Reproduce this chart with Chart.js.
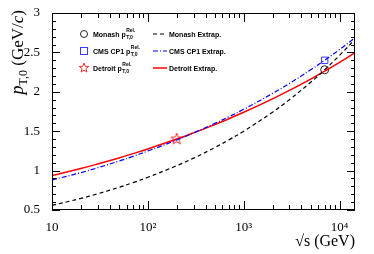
<!DOCTYPE html>
<html>
<head>
<meta charset="utf-8">
<script src="https://cdn.jsdelivr.net/npm/chart.js@4.4.0/dist/chart.umd.min.js"></script>
<style>
  html, body { margin: 0; padding: 0; background: #fff; }
  #wrap { width: 374px; height: 254px; }
</style>
</head>
<body>
<div id="wrap"><canvas id="myChart"></canvas></div>
<script>
// sqrt(s) sample points (GeV)
const sqrtS = [10, 20, 30, 50, 70, 100, 200, 300, 500, 700, 1000, 2000, 3000, 5000, 7000, 10000, 14500];
const monashExtrap  = [0.558, 0.647, 0.706, 0.788, 0.847, 0.915, 1.062, 1.158, 1.293, 1.390, 1.500, 1.741, 1.900, 2.121, 2.280, 2.462, 2.666];
const cp1Extrap     = [0.882, 0.974, 1.036, 1.121, 1.181, 1.248, 1.388, 1.478, 1.599, 1.683, 1.778, 1.979, 2.106, 2.279, 2.400, 2.536, 2.685];
const detroitExtrap = [0.936, 1.026, 1.084, 1.161, 1.215, 1.275, 1.400, 1.479, 1.584, 1.658, 1.740, 1.911, 2.018, 2.162, 2.262, 2.374, 2.496];

// reference points
const monashRef  = [{x: 7000, y: 2.28}];
const cp1Ref     = [{x: 7000, y: 2.40}];
const detroitRef = [{x: 200, y: 1.40}];

const xMajor = [10, 100, 1000, 10000];
const xLabels = {10: '10', 100: '10\u00B2', 1000: '10\u00B3', 10000: '10\u2074'};

function pts(vals) { return sqrtS.map((s, i) => ({x: s, y: vals[i]})); }

// open 5-pointed star marker
function starImg(r, color) {
  const c = document.createElement('canvas');
  c.width = c.height = 2 * r + 4;
  const g = c.getContext('2d');
  g.strokeStyle = color; g.lineWidth = 1;
  g.beginPath();
  for (let i = 0; i < 10; i++) {
    const rr = i % 2 ? r * 0.42 : r;
    const a = -Math.PI / 2 + i * Math.PI / 5;
    const px = r + 2 + rr * Math.cos(a), py = r + 2 + rr * Math.sin(a);
    i ? g.lineTo(px, py) : g.moveTo(px, py);
  }
  g.closePath(); g.stroke();
  return c;
}
const star = starImg(6, '#ff2a2a');
const starSmall = starImg(5, '#ff2a2a');

const rootFrame = {
  id: 'rootFrame',
  afterDraw(chart) {
    const ctx = chart.ctx, a = chart.chartArea;
    const xs = chart.scales.x, ys = chart.scales.y;
    ctx.save();
    ctx.strokeStyle = '#000'; ctx.lineWidth = 1;
    ctx.strokeRect(a.left + 0.5, a.top + 0.5, a.right - a.left - 1, a.bottom - a.top - 1);
    ctx.beginPath();
    // y ticks
    for (let k = 5; k <= 30; k++) {
      const py = Math.round(ys.getPixelForValue(k / 10)) + 0.5;
      const len = k % 5 === 0 ? 8 : 4;
      ctx.moveTo(a.left, py); ctx.lineTo(a.left + len, py);
      ctx.moveTo(a.right, py); ctx.lineTo(a.right - len, py);
    }
    // x ticks
    for (let d = 10; d <= 10000; d *= 10) {
      for (let m = 1; m <= 9; m++) {
        const v = d * m;
        if (v > xs.max) break;
        const px = Math.round(xs.getPixelForValue(v)) + 0.5;
        const len = m === 1 ? 9 : 5;
        ctx.moveTo(px, a.bottom); ctx.lineTo(px, a.bottom - len);
        ctx.moveTo(px, a.top); ctx.lineTo(px, a.top + len);
      }
    }
    ctx.stroke();

    // axis titles
    ctx.fillStyle = '#000';
    ctx.textBaseline = 'alphabetic';
    ctx.font = '16px "Liberation Serif"';
    ctx.textAlign = 'right';
    ctx.fillText('\u221As (GeV)', a.right, 246);

    ctx.save();
    ctx.rotate(-Math.PI / 2);
    const parts = [
      ['italic 18px "Liberation Serif"', 'p', 0],
      ['12px "Liberation Serif"', 'T,0', 4],
      ['17px "Liberation Serif"', ' (GeV/', 0],
      ['italic 17px "Liberation Serif"', 'c', 0],
      ['17px "Liberation Serif"', ')', 0]
    ];
    let tot = 0;
    parts.forEach(p => { ctx.font = p[0]; tot += ctx.measureText(p[1]).width; });
    let cx = -10 - tot;
    ctx.textAlign = 'left';
    parts.forEach(p => { ctx.font = p[0]; ctx.fillText(p[1], cx, 23 + p[2]); cx += ctx.measureText(p[1]).width; });
    ctx.restore();

    // legend
    const rows = [
      {y: 34, name: 'Monash', ds: 3, line: 0},
      {y: 51, name: 'CMS CP1', ds: 4, line: 1},
      {y: 68, name: 'Detroit', ds: 5, line: 2}
    ];
    rows.forEach(r => {
      const pd = chart.data.datasets[r.ds];
      const ld = chart.data.datasets[r.line];
      ctx.strokeStyle = pd.borderColor; ctx.lineWidth = 1;
      if (r.ds === 3) { ctx.beginPath(); ctx.arc(84, r.y, 3.5, 0, 2 * Math.PI); ctx.stroke(); }
      else if (r.ds === 4) { ctx.strokeRect(80.5, r.y - 3.5, 7, 7); }
      else { ctx.drawImage(starSmall, 84 - 7, r.y - 7); }
      ctx.fillStyle = '#000';
      ctx.font = 'bold 7px "Liberation Sans"';
      ctx.textAlign = 'left';
      const t = r.name + ' p';
      ctx.fillText(t, 93, r.y + 2.5);
      const w = ctx.measureText(t).width;
      ctx.font = 'bold 5px "Liberation Sans"';
      ctx.fillText('Rel.', 93 + w + 0.5, r.y - 2);
      ctx.fillText('T,0', 93 + w + 0.5, r.y + 5);
      // line sample
      ctx.strokeStyle = ld.borderColor; ctx.lineWidth = ld.borderWidth;
      ctx.setLineDash(ld.borderDash || []);
      ctx.beginPath(); ctx.moveTo(153, r.y); ctx.lineTo(167, r.y); ctx.stroke();
      ctx.setLineDash([]);
      ctx.font = 'bold 7px "Liberation Sans"';
      ctx.fillText(r.name + ' Extrap.', 169, r.y + 2.5);
    });
    ctx.restore();
  }
};

new Chart(document.getElementById('myChart'), {
  type: 'line',
  data: {
    datasets: [
      {label: 'Monash Extrap.', data: pts(monashExtrap), borderColor: '#000', borderWidth: 1.2, borderDash: [4, 3], pointRadius: 0, tension: 0.4, fill: false},
      {label: 'CMS CP1 Extrap.', data: pts(cp1Extrap), borderColor: '#0000ff', borderWidth: 1.2, borderDash: [5, 2, 1, 2], pointRadius: 0, tension: 0.4, fill: false},
      {label: 'Detroit Extrap.', data: pts(detroitExtrap), borderColor: '#ff0000', borderWidth: 1.5, pointRadius: 0, tension: 0.4, fill: false},
      {label: 'Monash pRef', data: monashRef, showLine: false, pointStyle: 'circle', pointRadius: 4, borderColor: '#222', pointBorderColor: '#222', pointBackgroundColor: 'rgba(0,0,0,0)', pointBorderWidth: 1},
      {label: 'CMS CP1 pRef', data: cp1Ref, showLine: false, pointStyle: 'rect', pointRadius: 4.5, borderColor: '#3a3aff', pointBorderColor: '#3a3aff', pointBackgroundColor: 'rgba(0,0,0,0)', pointBorderWidth: 1},
      {label: 'Detroit pRef', data: detroitRef, showLine: false, pointStyle: star, pointRadius: 6, borderColor: '#ff2a2a', pointBorderColor: '#ff2a2a', pointBackgroundColor: 'rgba(0,0,0,0)'}
    ]
  },
  options: {
    responsive: true,
    maintainAspectRatio: false,
    animation: false,
    layout: {padding: {left: 0, right: 19, top: 13, bottom: 0}},
    plugins: {legend: {display: false}, tooltip: {enabled: false}},
    scales: {
      x: {
        type: 'logarithmic',
        min: 10, max: 14500,
        grid: {display: false},
        border: {display: false},
        afterBuildTicks: s => { s.ticks = xMajor.map(v => ({value: v})); },
        afterFit: s => { s.height = 44; },
        ticks: {
          autoSkip: false, maxRotation: 0, padding: 2, color: '#000',
          font: {family: 'Liberation Serif', size: 13},
          callback: v => xLabels[v] || ''
        }
      },
      y: {
        type: 'linear',
        min: 0.5, max: 3,
        grid: {display: false},
        border: {display: false},
        afterBuildTicks: s => { s.ticks = [0.5, 1, 1.5, 2, 2.5, 3].map(v => ({value: v})); },
        afterFit: s => { s.width = 52; },
        ticks: {
          padding: 4, color: '#000',
          font: {family: 'Liberation Serif', size: 13},
          callback: v => String(v)
        }
      }
    }
  },
  plugins: [rootFrame]
});
</script>
</body>
</html>
